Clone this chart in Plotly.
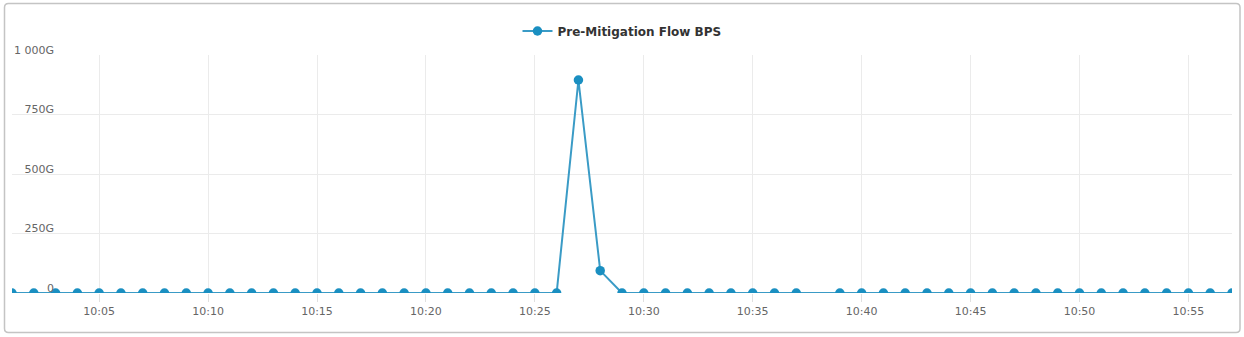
import plotly.graph_objects as go

# ---- data ----
minutes = [m for m in range(1, 58) if m != 38]
times = [f"2024-01-01 10:{m:02d}:00" for m in minutes]
values_g = []
for m in minutes:
    if m == 27:
        values_g.append(895)
    elif m == 28:
        values_g.append(94)
    else:
        values_g.append(0)

series_name = "Pre-Mitigation Flow BPS"
y_tickvals = [0, 250, 500, 750, 1000]
y_ticktext = ["0", "250G", "500G", "750G", "1 000G"]

W, H = 1244, 337
ML, MR, MT, MB = 12, 12, 55, 44
PW, PH = W - ML - MR, H - MT - MB


def px(x):
    return (x - ML) / PW


def py(y):
    return (H - MB - y) / PH


fig = go.Figure()
fig.add_trace(go.Scatter(
    x=times, y=values_g, mode="lines+markers", name=series_name,
    line=dict(color="#3a9bc6", width=2),
    marker=dict(color="#1a8fc1", size=9.5),
))

# rounded frame
x0, x1, y0, y1, r = 4.5, 1240, 3.5, 332.5, 4
path = (
    f"M {px(x0 + r)} {py(y0)} L {px(x1 - r)} {py(y0)} "
    f"Q {px(x1)} {py(y0)} {px(x1)} {py(y0 + r)} L {px(x1)} {py(y1 - r)} "
    f"Q {px(x1)} {py(y1)} {px(x1 - r)} {py(y1)} L {px(x0 + r)} {py(y1)} "
    f"Q {px(x0)} {py(y1)} {px(x0)} {py(y1 - r)} L {px(x0)} {py(y0 + r)} "
    f"Q {px(x0)} {py(y0)} {px(x0 + r)} {py(y0)} Z"
)
fig.add_shape(type="path", path=path, xref="paper", yref="paper",
              line=dict(color="#c4c4c4", width=1.5), layer="below")

fig.update_layout(
    width=W, height=H,
    margin=dict(l=ML, r=MR, t=MT, b=MB),
    paper_bgcolor="white", plot_bgcolor="white",
    font=dict(family="DejaVu Sans", size=11, color="#666666"),
    showlegend=True,
    legend=dict(orientation="h", x=0.5, xanchor="center", y=py(31), yanchor="middle",
                font=dict(size=12, color="#333333", family="DejaVu Sans", weight="bold"),
                itemwidth=30),
    xaxis=dict(
        type="date",
        range=["2024-01-01 10:01:00", "2024-01-01 10:57:00"],
        tick0="2024-01-01 10:00:00", dtick=300000, tickformat="%H:%M",
        showgrid=True, gridcolor="#ebebeb", gridwidth=1,
        ticks="outside", ticklen=8, tickcolor="#e0e0e0",
        showline=False, zeroline=False,
        tickfont=dict(size=11, color="#666666"),
    ),
    yaxis=dict(
        range=[0, 1000], tickvals=y_tickvals, ticktext=y_ticktext,
        anchor="free", position=px(54),
        showgrid=True, gridcolor="#ebebeb", gridwidth=1,
        zeroline=False, showline=False, ticks="",
        ticklabelshift=-5,
        tickfont=dict(size=11, color="#666666"),
    ),
)

fig.write_html("out.html")
